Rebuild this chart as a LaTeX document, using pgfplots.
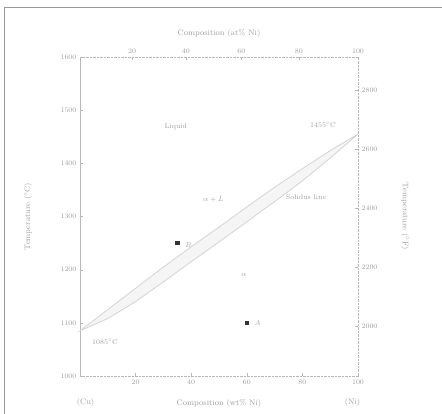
\documentclass[border=0pt]{standalone}
\usepackage{pgfplots}
\pgfplotsset{compat=1.18}
\definecolor{txt}{gray}{0.62}
\definecolor{ln}{gray}{0.72}
\begin{document}
\begin{tikzpicture}
\path[use as bounding box] (-80pt,-38pt) rectangle (362pt,376pt);
\draw[black!40, line width=1pt] (-75pt,-38pt) -- (-75pt,368pt) -- (362pt,368pt);
\begin{axis}[
  scale only axis, width=278pt, height=319pt,
  xmin=0, xmax=100, ymin=1000, ymax=1600,
  axis x line*=bottom, axis y line*=left,
  x axis line style={-, densely dotted, ln},
  y axis line style={-, ln},
  xtick={20,40,60,80,100}, ytick={1000,1100,...,1600},
  major tick length=3pt, tick style={ln},
  tick label style={font=\scriptsize, text=txt},
  label style={font=\footnotesize, text=txt},
  xlabel={Composition (wt\% Ni)},
  ylabel={Temperature (${}^\circ$C)},
  xlabel style={at={(axis description cs:0.5,-0.085)}, anchor=center},
  ylabel style={at={(axis description cs:-0.187,0.5)}, anchor=center},
  yticklabel style={/pgf/number format/1000 sep={}},
  clip=false,
]
\addplot[fill=black!4, draw=black!17, line width=0.8pt] coordinates {
  (0,1085) (10,1125) (20,1165) (30,1205) (40,1243) (50,1280)
  (60,1318) (70,1355) (80,1390) (90,1424) (100,1455)
  (90,1410) (80,1367) (70,1328) (60,1290) (50,1252) (40,1215)
  (30,1177) (20,1140) (10,1108) (0,1085)} -- cycle;
\addplot[only marks, mark=square*, mark size=1.6pt, black!80] coordinates {(35,1250) (60,1100)};
\node[font=\scriptsize\itshape, text=txt, anchor=west] at (axis cs:36.5,1246) {B};
\node[font=\scriptsize\itshape, text=txt, anchor=west] at (axis cs:61.5,1100) {A};
\node[font=\scriptsize, text=txt] at (axis cs:34.5,1468) {Liquid};
\node[font=\scriptsize, text=txt] at (axis cs:87.4,1472) {1455${}^\circ$C};
\node[font=\scriptsize, text=txt] at (axis cs:9,1064) {1085${}^\circ$C};
\node[font=\scriptsize, text=txt] at (axis cs:81.3,1337) {Solidus line};
\node[font=\scriptsize, text=txt] at (axis cs:48,1331) {$\alpha + L$};
\node[font=\scriptsize, text=txt] at (axis cs:59,1190) {$\alpha$};
\node[font=\footnotesize, text=txt] at (axis cs:2,951) {(Cu)};
\node[font=\footnotesize, text=txt] at (axis cs:98,951) {(Ni)};
\end{axis}
\begin{axis}[
  scale only axis, width=278pt, height=319pt,
  xmin=0, xmax=100, ymin=1832, ymax=2912,
  axis x line*=top, axis y line*=right,
  x axis line style={-, densely dotted, ln},
  y axis line style={-, densely dotted, ln},
  xtick={18.76,38.1,58.08,78.7,100}, xticklabels={20,40,60,80,100},
  ytick={2000,2200,...,2800},
  major tick length=3pt, tick style={ln},
  tick label style={font=\scriptsize, text=txt},
  label style={font=\footnotesize, text=txt},
  xlabel={Composition (at\% Ni)},
  ylabel={Temperature (${}^\circ$F)},
  xlabel style={at={(axis description cs:0.5,1.075)}, anchor=center},
  ylabel style={at={(axis description cs:1.169,0.5)}, anchor=center, rotate=180},
  yticklabel style={/pgf/number format/1000 sep={}},
]
\addplot[draw=none] coordinates {(0,2000)};
\end{axis}
\end{tikzpicture}
\end{document}
